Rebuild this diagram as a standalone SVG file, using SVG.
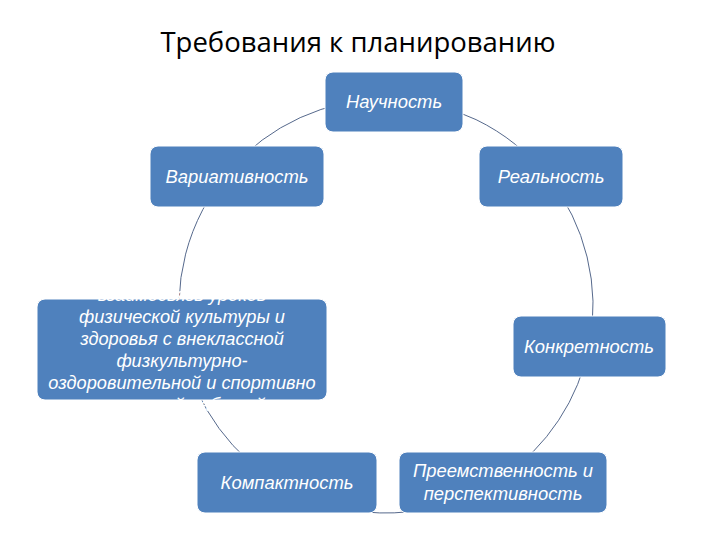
<svg xmlns="http://www.w3.org/2000/svg" width="720" height="540" viewBox="0 0 720 540">
<style>
.box{fill:#4f81bd;stroke:#ffffff;stroke-width:1}
.lbl{font-family:"Liberation Sans",Arial,sans-serif;font-style:italic;font-size:18.4px;fill:#ffffff;text-anchor:middle}
.big{font-size:18.2px}
.arc{fill:none;stroke:#56698c;stroke-width:1}
.title{font-family:"Open Sans","Noto Sans",sans-serif;font-size:27.5px;fill:#000000;text-anchor:middle}
</style>
<rect width="720" height="540" fill="#ffffff"/>
<text class="title" x="358" y="52">Требования к планированию</text>
<g id="connectors">
<path class="arc" d="M386 99 A207 207 0 0 1 548.2 177.4"/>
<path class="arc" d="M548.2 177.4 A207 207 0 0 1 589.2 345.5"/>
<path class="arc" d="M589.2 345.5 A207 207 0 0 1 501.8 477.6"/>
<path class="arc" d="M501.8 477.6 A207 207 0 0 1 284.1 486.2"/>
<path class="arc" d="M284.1 486.2 A207 207 0 0 1 183.5 349"/>
<path class="arc" d="M183.5 349 A207 207 0 0 1 229.8 170.2"/>
<path class="arc" d="M229.8 170.2 A207 207 0 0 1 386 99"/>
</g>
<g id="n1"><rect class="box" x="325" y="72" width="138" height="60" rx="8"/><text class="lbl" x="394" y="108">Научность</text></g>
<g id="n2"><rect class="box" x="479" y="146" width="144" height="61" rx="8"/><text class="lbl" x="551" y="183">Реальность</text></g>
<g id="n3"><rect class="box" x="513" y="316" width="153" height="61" rx="8"/><text class="lbl" x="589" y="353">Конкретность</text></g>
<g id="n4"><rect class="box" x="399" y="452" width="208" height="61" rx="8"/><text class="lbl" x="503" y="477"><tspan x="503">Преемственность и</tspan><tspan x="503" dy="23">перспективность</tspan></text></g>
<g id="n5"><rect class="box" x="197" y="452" width="180" height="61" rx="8"/><text class="lbl" x="287" y="489">Компактность</text></g>
<g id="n6"><rect class="box" x="37" y="299" width="290" height="101" rx="8"/>
<text class="lbl big" x="182" y="301"><tspan x="182">взаимосвязь уроков</tspan><tspan x="182" dy="22">физической культуры и</tspan><tspan x="182" dy="22">здоровья с внеклассной</tspan><tspan x="182" dy="22">физкультурно-</tspan><tspan x="182" dy="22">оздоровительной и спортивно</tspan><tspan x="182" dy="22">-массовой работой</tspan></text></g>
<g id="n7"><rect class="box" x="150" y="146" width="174" height="61" rx="8"/><text class="lbl" x="237" y="183">Вариативность</text></g>
</svg>
